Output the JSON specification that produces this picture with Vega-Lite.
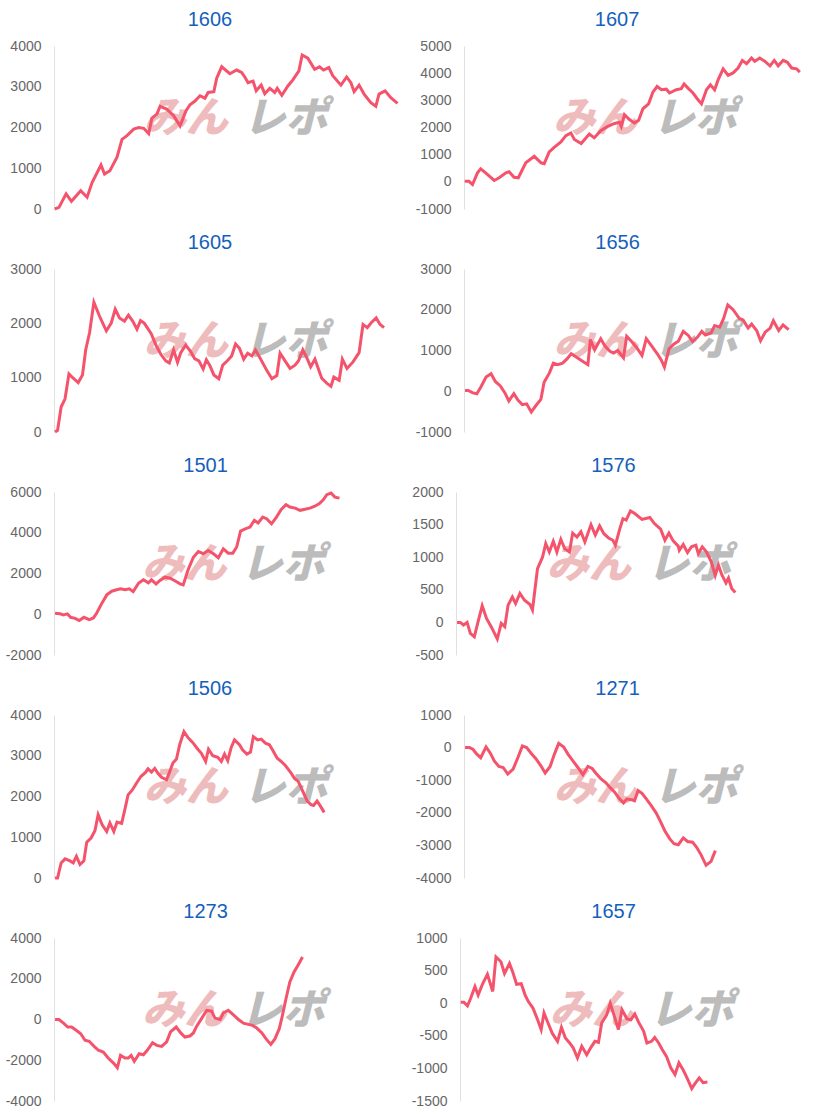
{
"$schema": "https://vega.github.io/schema/vega-lite/v6.json",
"padding": {"left": 5, "top": 10, "right": 0, "bottom": 0},
"background": "white",
"config": {
  "view": {"stroke": null},
  "title": {"font": "Liberation Sans", "fontSize": 20, "fontWeight": "normal", "color": "#1560bd", "frame": "bounds", "anchor": "middle", "offset": 9},
  "axis": {"labelFont": "Liberation Sans", "labelFontSize": 14, "labelColor": "#666666", "labelOverlap": false, "labelExpr": "'' + datum.value", "gridColor": {"condition": {"test": "datum.value === 0", "value": "#aaaaaa"}, "value": "#e6e6e6"}, "domainColor": "#e0e0e0", "ticks": false, "labelPadding": 13},
  "line": {"color": "#f4536b", "strokeWidth": 3},
  "text": {"font": "Noto Sans CJK JP", "fontSize": 42, "fontWeight": 900, "fontStyle": "italic", "baseline": "middle", "align": "center"}
},
"datasets": {
"one": [{}],
"c1606": [{"x":0.2,"y":0},{"x":1.4,"y":40},{"x":3.4,"y":370},{"x":4.9,"y":190},{"x":7.5,"y":450},{"x":9.3,"y":290},{"x":10.7,"y":650},{"x":13.2,"y":1080},{"x":14.2,"y":860},{"x":15.7,"y":940},{"x":17.7,"y":1270},{"x":19.1,"y":1710},{"x":20.5,"y":1800},{"x":22.4,"y":1960},{"x":23.8,"y":2000},{"x":25.2,"y":1980},{"x":26.6,"y":1850},{"x":27.5,"y":2230},{"x":28.9,"y":2330},{"x":29.8,"y":2520},{"x":31.7,"y":2450},{"x":33.6,"y":2290},{"x":35.4,"y":2040},{"x":37.1,"y":2410},{"x":38.2,"y":2560},{"x":39.6,"y":2650},{"x":41.0,"y":2780},{"x":42.4,"y":2720},{"x":43.3,"y":2860},{"x":44.9,"y":2880},{"x":45.7,"y":3210},{"x":47.1,"y":3490},{"x":49.4,"y":3320},{"x":51.3,"y":3410},{"x":52.7,"y":3350},{"x":53.6,"y":3240},{"x":54.5,"y":3100},{"x":55.9,"y":3140},{"x":56.8,"y":2900},{"x":58.2,"y":3040},{"x":59.2,"y":2830},{"x":60.6,"y":2960},{"x":62.0,"y":2860},{"x":62.7,"y":2960},{"x":64.0,"y":2790},{"x":65.7,"y":3020},{"x":67.1,"y":3170},{"x":68.8,"y":3390},{"x":69.7,"y":3780},{"x":71.3,"y":3700},{"x":73.2,"y":3430},{"x":74.6,"y":3490},{"x":75.7,"y":3410},{"x":77.2,"y":3470},{"x":78.3,"y":3270},{"x":80.6,"y":3040},{"x":82.2,"y":3240},{"x":83.4,"y":3100},{"x":84.3,"y":2880},{"x":85.7,"y":3040},{"x":87.1,"y":2820},{"x":89.0,"y":2610},{"x":90.4,"y":2520},{"x":91.3,"y":2820},{"x":93.0,"y":2900},{"x":94.6,"y":2730},{"x":96.5,"y":2590}],
"c1607": [{"x":0.2,"y":20},{"x":1.4,"y":20},{"x":2.4,"y":-100},{"x":3.8,"y":330},{"x":4.7,"y":480},{"x":6.1,"y":330},{"x":8.5,"y":50},{"x":9.9,"y":150},{"x":11.8,"y":330},{"x":12.7,"y":370},{"x":14.1,"y":170},{"x":15.3,"y":150},{"x":17.4,"y":700},{"x":19.8,"y":940},{"x":21.7,"y":700},{"x":22.6,"y":670},{"x":24.0,"y":1100},{"x":25.4,"y":1270},{"x":27.3,"y":1470},{"x":28.7,"y":1700},{"x":30.1,"y":1800},{"x":31.1,"y":1560},{"x":33.0,"y":1410},{"x":35.3,"y":1760},{"x":36.7,"y":1620},{"x":38.6,"y":1890},{"x":40.5,"y":2040},{"x":42.4,"y":2150},{"x":43.8,"y":2190},{"x":44.3,"y":2040},{"x":45.2,"y":2470},{"x":46.6,"y":2290},{"x":48.0,"y":2170},{"x":49.2,"y":2270},{"x":50.4,"y":2690},{"x":52.0,"y":2870},{"x":53.2,"y":3300},{"x":54.4,"y":3510},{"x":55.6,"y":3390},{"x":57.0,"y":3410},{"x":57.9,"y":3270},{"x":59.8,"y":3390},{"x":61.2,"y":3430},{"x":62.0,"y":3600},{"x":63.1,"y":3450},{"x":64.5,"y":3270},{"x":65.7,"y":3060},{"x":66.9,"y":2870},{"x":68.3,"y":3390},{"x":69.4,"y":3570},{"x":70.6,"y":3390},{"x":71.6,"y":3760},{"x":73.0,"y":4160},{"x":74.4,"y":3920},{"x":75.8,"y":4010},{"x":77.2,"y":4190},{"x":78.4,"y":4470},{"x":79.6,"y":4350},{"x":81.0,"y":4560},{"x":81.9,"y":4440},{"x":83.3,"y":4560},{"x":84.7,"y":4440},{"x":86.2,"y":4270},{"x":87.4,"y":4470},{"x":88.5,"y":4270},{"x":89.9,"y":4470},{"x":91.1,"y":4400},{"x":92.3,"y":4190},{"x":93.7,"y":4160},{"x":94.6,"y":4040}],
"c1605": [{"x":0.3,"y":0},{"x":1.0,"y":30},{"x":2.0,"y":460},{"x":3.1,"y":610},{"x":4.2,"y":1070},{"x":5.4,"y":990},{"x":6.8,"y":910},{"x":8.0,"y":1050},{"x":8.9,"y":1510},{"x":10.0,"y":1830},{"x":11.2,"y":2390},{"x":12.8,"y":2130},{"x":14.7,"y":1860},{"x":16.1,"y":2010},{"x":17.2,"y":2260},{"x":18.4,"y":2100},{"x":19.8,"y":2040},{"x":20.9,"y":2150},{"x":22.1,"y":2040},{"x":23.3,"y":1890},{"x":24.3,"y":2050},{"x":25.4,"y":2000},{"x":27.3,"y":1810},{"x":28.7,"y":1590},{"x":30.0,"y":1430},{"x":31.4,"y":1310},{"x":32.4,"y":1270},{"x":33.6,"y":1510},{"x":34.7,"y":1280},{"x":35.6,"y":1460},{"x":37.0,"y":1600},{"x":38.4,"y":1480},{"x":39.5,"y":1350},{"x":40.7,"y":1310},{"x":41.9,"y":1160},{"x":42.8,"y":1330},{"x":43.8,"y":1220},{"x":44.9,"y":1050},{"x":46.3,"y":980},{"x":47.4,"y":1230},{"x":48.7,"y":1310},{"x":49.9,"y":1400},{"x":51.0,"y":1620},{"x":52.1,"y":1540},{"x":53.3,"y":1340},{"x":54.4,"y":1450},{"x":55.6,"y":1400},{"x":56.6,"y":1510},{"x":57.8,"y":1370},{"x":59.8,"y":1130},{"x":61.2,"y":980},{"x":62.6,"y":1040},{"x":63.5,"y":1450},{"x":64.9,"y":1310},{"x":66.3,"y":1170},{"x":67.7,"y":1230},{"x":68.7,"y":1310},{"x":69.9,"y":1510},{"x":71.0,"y":1370},{"x":72.1,"y":1200},{"x":73.3,"y":1340},{"x":75.2,"y":990},{"x":76.6,"y":900},{"x":77.8,"y":840},{"x":78.6,"y":1010},{"x":80.1,"y":950},{"x":81.0,"y":1340},{"x":82.3,"y":1170},{"x":84.0,"y":1290},{"x":85.7,"y":1460},{"x":86.8,"y":1980},{"x":88.0,"y":1920},{"x":89.1,"y":2010},{"x":90.5,"y":2100},{"x":91.6,"y":1980},{"x":92.7,"y":1920}],
"c1656": [{"x":0.3,"y":20},{"x":1.2,"y":20},{"x":2.5,"y":-40},{"x":3.6,"y":-60},{"x":4.7,"y":100},{"x":6.2,"y":350},{"x":7.6,"y":430},{"x":8.8,"y":240},{"x":10.2,"y":130},{"x":11.5,"y":-40},{"x":12.6,"y":-240},{"x":14.0,"y":-60},{"x":15.2,"y":-220},{"x":16.4,"y":-330},{"x":17.6,"y":-310},{"x":18.9,"y":-510},{"x":20.2,"y":-350},{"x":21.6,"y":-200},{"x":22.5,"y":220},{"x":24.0,"y":450},{"x":25.1,"y":690},{"x":26.3,"y":650},{"x":27.7,"y":690},{"x":29.0,"y":800},{"x":30.1,"y":920},{"x":31.5,"y":840},{"x":33.4,"y":730},{"x":34.8,"y":650},{"x":35.5,"y":1270},{"x":36.7,"y":1020},{"x":38.4,"y":1290},{"x":39.6,"y":1110},{"x":41.0,"y":980},{"x":42.0,"y":940},{"x":43.2,"y":1000},{"x":44.8,"y":820},{"x":45.7,"y":1350},{"x":47.2,"y":1210},{"x":48.6,"y":1060},{"x":50.0,"y":880},{"x":51.2,"y":1290},{"x":52.8,"y":1100},{"x":54.3,"y":920},{"x":55.4,"y":770},{"x":56.3,"y":590},{"x":57.6,"y":1040},{"x":59.0,"y":1160},{"x":60.2,"y":1230},{"x":61.6,"y":1470},{"x":63.0,"y":1370},{"x":64.2,"y":1220},{"x":65.6,"y":1330},{"x":66.8,"y":1470},{"x":67.8,"y":1380},{"x":69.4,"y":1430},{"x":70.4,"y":1610},{"x":71.8,"y":1570},{"x":72.9,"y":1780},{"x":74.1,"y":2120},{"x":75.6,"y":2000},{"x":77.3,"y":1790},{"x":78.4,"y":1750},{"x":79.8,"y":1550},{"x":80.8,"y":1650},{"x":82.2,"y":1490},{"x":83.3,"y":1240},{"x":84.6,"y":1450},{"x":86.0,"y":1550},{"x":86.9,"y":1730},{"x":88.4,"y":1490},{"x":89.6,"y":1630},{"x":91.2,"y":1510}],
"c1501": [{"x":0.3,"y":50},{"x":1.7,"y":20},{"x":2.7,"y":-30},{"x":3.8,"y":20},{"x":4.7,"y":-150},{"x":6.0,"y":-200},{"x":7.2,"y":-310},{"x":8.5,"y":-150},{"x":10.0,"y":-260},{"x":11.2,"y":-180},{"x":12.1,"y":50},{"x":13.5,"y":510},{"x":15.0,"y":950},{"x":16.4,"y":1130},{"x":17.8,"y":1200},{"x":18.9,"y":1250},{"x":20.2,"y":1200},{"x":21.4,"y":1250},{"x":22.5,"y":1110},{"x":24.0,"y":1520},{"x":25.4,"y":1690},{"x":26.8,"y":1540},{"x":27.7,"y":1690},{"x":29.0,"y":1490},{"x":30.1,"y":1660},{"x":31.5,"y":1820},{"x":33.0,"y":1770},{"x":34.7,"y":1610},{"x":35.8,"y":1490},{"x":36.7,"y":1440},{"x":38.2,"y":2230},{"x":39.6,"y":2800},{"x":41.0,"y":3080},{"x":42.4,"y":2970},{"x":43.8,"y":3130},{"x":45.3,"y":2970},{"x":46.7,"y":2770},{"x":48.1,"y":3210},{"x":49.5,"y":3000},{"x":50.8,"y":3000},{"x":51.9,"y":3300},{"x":53.0,"y":4080},{"x":54.5,"y":4200},{"x":55.7,"y":4280},{"x":56.9,"y":4610},{"x":58.0,"y":4480},{"x":59.3,"y":4770},{"x":60.4,"y":4690},{"x":61.8,"y":4440},{"x":63.1,"y":4740},{"x":64.5,"y":5130},{"x":65.9,"y":5380},{"x":67.0,"y":5260},{"x":68.5,"y":5210},{"x":69.9,"y":5100},{"x":71.3,"y":5150},{"x":72.7,"y":5210},{"x":74.1,"y":5300},{"x":75.4,"y":5430},{"x":76.5,"y":5620},{"x":77.5,"y":5870},{"x":78.7,"y":5950},{"x":79.8,"y":5750},{"x":81.1,"y":5700}],
"c1576": [{"x":0.3,"y":0},{"x":1.2,"y":0},{"x":2.1,"y":-40},{"x":3.1,"y":0},{"x":4.0,"y":-170},{"x":5.1,"y":-220},{"x":6.1,"y":0},{"x":7.3,"y":255},{"x":8.5,"y":60},{"x":9.8,"y":-65},{"x":11.5,"y":-255},{"x":12.6,"y":-15},{"x":13.6,"y":-65},{"x":14.5,"y":265},{"x":15.7,"y":390},{"x":16.6,"y":290},{"x":17.8,"y":445},{"x":19.1,"y":340},{"x":20.6,"y":275},{"x":21.3,"y":190},{"x":22.7,"y":825},{"x":24.1,"y":1000},{"x":25.0,"y":1210},{"x":26.0,"y":1080},{"x":27.1,"y":1245},{"x":28.1,"y":1080},{"x":29.2,"y":1275},{"x":30.3,"y":1130},{"x":31.6,"y":1080},{"x":32.5,"y":1370},{"x":33.7,"y":1310},{"x":34.8,"y":1390},{"x":35.9,"y":1235},{"x":37.6,"y":1500},{"x":38.8,"y":1340},{"x":40.0,"y":1480},{"x":41.2,"y":1360},{"x":42.5,"y":1295},{"x":43.7,"y":1260},{"x":44.4,"y":1185},{"x":45.6,"y":1430},{"x":46.5,"y":1590},{"x":47.4,"y":1570},{"x":48.6,"y":1710},{"x":49.8,"y":1670},{"x":51.8,"y":1580},{"x":54.0,"y":1610},{"x":55.2,"y":1520},{"x":57.0,"y":1430},{"x":58.2,"y":1260},{"x":59.3,"y":1370},{"x":60.5,"y":1250},{"x":61.9,"y":1170},{"x":62.2,"y":1105},{"x":63.3,"y":1195},{"x":64.5,"y":1070},{"x":65.6,"y":1160},{"x":66.8,"y":1185},{"x":67.5,"y":1055},{"x":68.6,"y":1160},{"x":69.8,"y":1080},{"x":71.1,"y":930},{"x":72.2,"y":720},{"x":73.1,"y":880},{"x":74.0,"y":735},{"x":75.2,"y":605},{"x":75.9,"y":680},{"x":76.8,"y":520},{"x":77.8,"y":460}],
"c1506": [{"x":0.3,"y":0},{"x":1.0,"y":0},{"x":2.0,"y":370},{"x":3.1,"y":470},{"x":4.5,"y":420},{"x":5.4,"y":370},{"x":6.3,"y":530},{"x":7.3,"y":330},{"x":8.4,"y":420},{"x":9.2,"y":880},{"x":10.4,"y":980},{"x":11.5,"y":1160},{"x":12.4,"y":1550},{"x":13.5,"y":1310},{"x":14.8,"y":1140},{"x":15.7,"y":1350},{"x":16.8,"y":1140},{"x":17.7,"y":1370},{"x":19.0,"y":1340},{"x":19.9,"y":1680},{"x":20.8,"y":2040},{"x":22.0,"y":2160},{"x":23.2,"y":2330},{"x":24.4,"y":2490},{"x":25.7,"y":2590},{"x":26.4,"y":2680},{"x":27.4,"y":2600},{"x":28.3,"y":2690},{"x":29.2,"y":2570},{"x":30.2,"y":2470},{"x":31.6,"y":2410},{"x":32.5,"y":2610},{"x":33.4,"y":2820},{"x":34.4,"y":2920},{"x":35.3,"y":3270},{"x":36.5,"y":3590},{"x":37.6,"y":3450},{"x":39.0,"y":3320},{"x":40.4,"y":3160},{"x":41.4,"y":3060},{"x":42.6,"y":2860},{"x":43.4,"y":3160},{"x":44.6,"y":3000},{"x":46.0,"y":2960},{"x":47.0,"y":2860},{"x":47.9,"y":3040},{"x":48.8,"y":2880},{"x":49.8,"y":3210},{"x":50.7,"y":3390},{"x":52.1,"y":3270},{"x":53.0,"y":3140},{"x":54.2,"y":3040},{"x":55.2,"y":3090},{"x":56.0,"y":3470},{"x":57.2,"y":3390},{"x":58.2,"y":3410},{"x":59.4,"y":3310},{"x":60.5,"y":3270},{"x":61.4,"y":3140},{"x":62.7,"y":2940},{"x":63.8,"y":2860},{"x":65.0,"y":2760},{"x":66.4,"y":2600},{"x":67.5,"y":2450},{"x":68.6,"y":2370},{"x":69.7,"y":2160},{"x":71.1,"y":1890},{"x":72.2,"y":1800},{"x":72.9,"y":1780},{"x":73.9,"y":1890},{"x":74.8,"y":1770},{"x":75.9,"y":1610}],
"c1271": [{"x":0.3,"y":0},{"x":1.5,"y":0},{"x":2.5,"y":-50},{"x":3.6,"y":-200},{"x":4.7,"y":-310},{"x":6.2,"y":20},{"x":7.4,"y":-170},{"x":8.5,"y":-410},{"x":9.8,"y":-580},{"x":11.0,"y":-610},{"x":12.3,"y":-810},{"x":13.8,"y":-660},{"x":15.2,"y":-290},{"x":16.4,"y":50},{"x":17.6,"y":0},{"x":18.9,"y":-180},{"x":20.2,"y":-340},{"x":21.6,"y":-560},{"x":22.8,"y":-780},{"x":24.2,"y":-580},{"x":25.4,"y":-200},{"x":26.6,"y":130},{"x":28.0,"y":20},{"x":29.2,"y":-200},{"x":30.6,"y":-410},{"x":32.0,"y":-610},{"x":33.4,"y":-830},{"x":34.8,"y":-580},{"x":36.0,"y":-640},{"x":37.0,"y":-780},{"x":38.4,"y":-950},{"x":39.8,"y":-1070},{"x":41.0,"y":-1220},{"x":42.2,"y":-1350},{"x":43.4,"y":-1530},{"x":44.8,"y":-1700},{"x":45.7,"y":-1580},{"x":47.2,"y":-1600},{"x":47.9,"y":-1630},{"x":48.9,"y":-1320},{"x":50.0,"y":-1400},{"x":51.1,"y":-1560},{"x":52.6,"y":-1780},{"x":54.0,"y":-2010},{"x":55.2,"y":-2270},{"x":56.4,"y":-2550},{"x":57.8,"y":-2800},{"x":59.0,"y":-2950},{"x":60.2,"y":-2980},{"x":61.6,"y":-2770},{"x":62.8,"y":-2880},{"x":64.2,"y":-2900},{"x":65.3,"y":-3050},{"x":66.6,"y":-3290},{"x":68.0,"y":-3610},{"x":69.4,"y":-3490},{"x":70.6,"y":-3160}],
"c1273": [{"x":0.3,"y":0},{"x":1.4,"y":0},{"x":2.7,"y":-180},{"x":3.9,"y":-370},{"x":5.0,"y":-370},{"x":6.3,"y":-530},{"x":7.6,"y":-700},{"x":8.8,"y":-1020},{"x":10.0,"y":-1070},{"x":11.4,"y":-1320},{"x":12.6,"y":-1510},{"x":14.0,"y":-1600},{"x":15.4,"y":-1890},{"x":16.9,"y":-2140},{"x":18.0,"y":-2370},{"x":18.9,"y":-1760},{"x":20.2,"y":-1890},{"x":21.1,"y":-1890},{"x":21.9,"y":-1760},{"x":22.8,"y":-2050},{"x":24.2,"y":-1680},{"x":25.4,"y":-1730},{"x":26.5,"y":-1510},{"x":28.0,"y":-1140},{"x":29.2,"y":-1270},{"x":30.6,"y":-1320},{"x":32.0,"y":-1100},{"x":33.1,"y":-610},{"x":34.7,"y":-370},{"x":36.0,"y":-660},{"x":37.2,"y":-860},{"x":38.6,"y":-810},{"x":39.6,"y":-660},{"x":40.5,"y":-340},{"x":42.0,"y":70},{"x":43.4,"y":450},{"x":44.8,"y":410},{"x":45.7,"y":70},{"x":47.2,"y":0},{"x":48.1,"y":320},{"x":49.5,"y":450},{"x":50.9,"y":240},{"x":52.4,"y":0},{"x":53.8,"y":-180},{"x":55.2,"y":-240},{"x":56.4,"y":-290},{"x":57.6,"y":-420},{"x":59.0,"y":-650},{"x":60.2,"y":-940},{"x":61.6,"y":-1220},{"x":62.8,"y":-940},{"x":64.0,"y":-450},{"x":64.9,"y":200},{"x":65.9,"y":1020},{"x":67.0,"y":1840},{"x":68.2,"y":2330},{"x":69.4,"y":2690},{"x":70.6,"y":3070}],
"c1657": [{"x":0.2,"y":15},{"x":1.1,"y":15},{"x":2.1,"y":-40},{"x":3.0,"y":75},{"x":4.2,"y":255},{"x":5.1,"y":125},{"x":6.3,"y":290},{"x":7.7,"y":445},{"x":9.2,"y":180},{"x":10.1,"y":710},{"x":11.5,"y":635},{"x":12.5,"y":455},{"x":13.9,"y":610},{"x":14.8,"y":480},{"x":15.9,"y":290},{"x":17.2,"y":300},{"x":18.3,"y":125},{"x":19.2,"y":25},{"x":20.5,"y":-75},{"x":21.7,"y":-240},{"x":22.8,"y":-405},{"x":23.6,"y":-150},{"x":24.7,"y":-300},{"x":25.9,"y":-460},{"x":27.4,"y":-585},{"x":28.5,"y":-370},{"x":29.6,"y":-535},{"x":30.8,"y":-610},{"x":31.8,"y":-685},{"x":33.0,"y":-840},{"x":34.2,"y":-660},{"x":35.6,"y":-790},{"x":36.7,"y":-685},{"x":37.9,"y":-585},{"x":38.9,"y":-600},{"x":39.8,"y":-305},{"x":41.2,"y":-180},{"x":42.2,"y":0},{"x":43.3,"y":-190},{"x":44.5,"y":-405},{"x":45.5,"y":-100},{"x":46.9,"y":-240},{"x":48.0,"y":-255},{"x":49.1,"y":-165},{"x":50.2,"y":-295},{"x":51.6,"y":-430},{"x":52.5,"y":-610},{"x":53.8,"y":-585},{"x":54.7,"y":-525},{"x":55.8,"y":-610},{"x":56.8,"y":-710},{"x":58.0,"y":-815},{"x":59.2,"y":-990},{"x":60.4,"y":-1095},{"x":61.5,"y":-915},{"x":62.7,"y":-1025},{"x":63.9,"y":-1160},{"x":65.1,"y":-1310},{"x":66.0,"y":-1235},{"x":67.2,"y":-1145},{"x":68.3,"y":-1220},{"x":69.5,"y":-1210}]
},
"spacing": 17,
"vconcat": [
{"spacing": 5, "hconcat": [
{"width": 356, "height": 163, "title": "1606", "layer": [
 {"data": {"name": "one"}, "mark": {"type": "text", "text": "みん", "color": "#eebcbc"}, "encoding": {"x": {"datum": 37, "type": "quantitative", "axis": null, "scale": {"domain": [0, 100], "nice": false, "zero": false}}, "y": {"datum": 2200, "type": "quantitative", "title": null, "scale": {"domain": [0, 4000], "nice": false, "zero": false}, "axis": {"values": [0, 1000, 2000, 3000, 4000]}}}},
 {"data": {"name": "one"}, "mark": {"type": "text", "text": "レポ", "color": "#bcbcbc"}, "encoding": {"x": {"datum": 65, "type": "quantitative", "axis": null, "scale": {"domain": [0, 100], "nice": false, "zero": false}}, "y": {"datum": 2200, "type": "quantitative", "title": null, "scale": {"domain": [0, 4000], "nice": false, "zero": false}, "axis": {"values": [0, 1000, 2000, 3000, 4000]}}}},
 {"data": {"name": "c1606"}, "mark": "line", "encoding": {"x": {"field": "x", "type": "quantitative", "axis": null, "scale": {"domain": [0, 100], "nice": false, "zero": false}}, "y": {"field": "y", "type": "quantitative", "title": null, "scale": {"domain": [0, 4000], "nice": false, "zero": false}, "axis": {"values": [0, 1000, 2000, 3000, 4000]}}}}
]},
{"width": 355, "height": 163, "title": "1607", "layer": [
 {"data": {"name": "one"}, "mark": {"type": "text", "text": "みん", "color": "#eebcbc"}, "encoding": {"x": {"datum": 37, "type": "quantitative", "axis": null, "scale": {"domain": [0, 100], "nice": false, "zero": false}}, "y": {"datum": 2300, "type": "quantitative", "title": null, "scale": {"domain": [-1000, 5000], "nice": false, "zero": false}, "axis": {"values": [-1000, 0, 1000, 2000, 3000, 4000, 5000]}}}},
 {"data": {"name": "one"}, "mark": {"type": "text", "text": "レポ", "color": "#bcbcbc"}, "encoding": {"x": {"datum": 65, "type": "quantitative", "axis": null, "scale": {"domain": [0, 100], "nice": false, "zero": false}}, "y": {"datum": 2300, "type": "quantitative", "title": null, "scale": {"domain": [-1000, 5000], "nice": false, "zero": false}, "axis": {"values": [-1000, 0, 1000, 2000, 3000, 4000, 5000]}}}},
 {"data": {"name": "c1607"}, "mark": "line", "encoding": {"x": {"field": "x", "type": "quantitative", "axis": null, "scale": {"domain": [0, 100], "nice": false, "zero": false}}, "y": {"field": "y", "type": "quantitative", "title": null, "scale": {"domain": [-1000, 5000], "nice": false, "zero": false}, "axis": {"values": [-1000, 0, 1000, 2000, 3000, 4000, 5000]}}}}
]}
]},
{"spacing": 5, "hconcat": [
{"width": 356, "height": 163, "title": "1605", "layer": [
 {"data": {"name": "one"}, "mark": {"type": "text", "text": "みん", "color": "#eebcbc"}, "encoding": {"x": {"datum": 37, "type": "quantitative", "axis": null, "scale": {"domain": [0, 100], "nice": false, "zero": false}}, "y": {"datum": 1650, "type": "quantitative", "title": null, "scale": {"domain": [0, 3000], "nice": false, "zero": false}, "axis": {"values": [0, 1000, 2000, 3000]}}}},
 {"data": {"name": "one"}, "mark": {"type": "text", "text": "レポ", "color": "#bcbcbc"}, "encoding": {"x": {"datum": 65, "type": "quantitative", "axis": null, "scale": {"domain": [0, 100], "nice": false, "zero": false}}, "y": {"datum": 1650, "type": "quantitative", "title": null, "scale": {"domain": [0, 3000], "nice": false, "zero": false}, "axis": {"values": [0, 1000, 2000, 3000]}}}},
 {"data": {"name": "c1605"}, "mark": "line", "encoding": {"x": {"field": "x", "type": "quantitative", "axis": null, "scale": {"domain": [0, 100], "nice": false, "zero": false}}, "y": {"field": "y", "type": "quantitative", "title": null, "scale": {"domain": [0, 3000], "nice": false, "zero": false}, "axis": {"values": [0, 1000, 2000, 3000]}}}}
]},
{"width": 356, "height": 163, "title": "1656", "layer": [
 {"data": {"name": "one"}, "mark": {"type": "text", "text": "みん", "color": "#eebcbc"}, "encoding": {"x": {"datum": 37, "type": "quantitative", "axis": null, "scale": {"domain": [0, 100], "nice": false, "zero": false}}, "y": {"datum": 1200, "type": "quantitative", "title": null, "scale": {"domain": [-1000, 3000], "nice": false, "zero": false}, "axis": {"values": [-1000, 0, 1000, 2000, 3000]}}}},
 {"data": {"name": "one"}, "mark": {"type": "text", "text": "レポ", "color": "#bcbcbc"}, "encoding": {"x": {"datum": 65, "type": "quantitative", "axis": null, "scale": {"domain": [0, 100], "nice": false, "zero": false}}, "y": {"datum": 1200, "type": "quantitative", "title": null, "scale": {"domain": [-1000, 3000], "nice": false, "zero": false}, "axis": {"values": [-1000, 0, 1000, 2000, 3000]}}}},
 {"data": {"name": "c1656"}, "mark": "line", "encoding": {"x": {"field": "x", "type": "quantitative", "axis": null, "scale": {"domain": [0, 100], "nice": false, "zero": false}}, "y": {"field": "y", "type": "quantitative", "title": null, "scale": {"domain": [-1000, 3000], "nice": false, "zero": false}, "axis": {"values": [-1000, 0, 1000, 2000, 3000]}}}}
]}
]},
{"spacing": 5, "hconcat": [
{"width": 352, "height": 163, "title": "1501", "layer": [
 {"data": {"name": "one"}, "mark": {"type": "text", "text": "みん", "color": "#eebcbc"}, "encoding": {"x": {"datum": 37, "type": "quantitative", "axis": null, "scale": {"domain": [0, 100], "nice": false, "zero": false}}, "y": {"datum": 2400, "type": "quantitative", "title": null, "scale": {"domain": [-2000, 6000], "nice": false, "zero": false}, "axis": {"values": [-2000, 0, 2000, 4000, 6000]}}}},
 {"data": {"name": "one"}, "mark": {"type": "text", "text": "レポ", "color": "#bcbcbc"}, "encoding": {"x": {"datum": 65, "type": "quantitative", "axis": null, "scale": {"domain": [0, 100], "nice": false, "zero": false}}, "y": {"datum": 2400, "type": "quantitative", "title": null, "scale": {"domain": [-2000, 6000], "nice": false, "zero": false}, "axis": {"values": [-2000, 0, 2000, 4000, 6000]}}}},
 {"data": {"name": "c1501"}, "mark": "line", "encoding": {"x": {"field": "x", "type": "quantitative", "axis": null, "scale": {"domain": [0, 100], "nice": false, "zero": false}}, "y": {"field": "y", "type": "quantitative", "title": null, "scale": {"domain": [-2000, 6000], "nice": false, "zero": false}, "axis": {"values": [-2000, 0, 2000, 4000, 6000]}}}}
]},
{"width": 359, "height": 163, "title": "1576", "layer": [
 {"data": {"name": "one"}, "mark": {"type": "text", "text": "みん", "color": "#eebcbc"}, "encoding": {"x": {"datum": 37, "type": "quantitative", "axis": null, "scale": {"domain": [0, 100], "nice": false, "zero": false}}, "y": {"datum": 875, "type": "quantitative", "title": null, "scale": {"domain": [-500, 2000], "nice": false, "zero": false}, "axis": {"values": [-500, 0, 500, 1000, 1500, 2000]}}}},
 {"data": {"name": "one"}, "mark": {"type": "text", "text": "レポ", "color": "#bcbcbc"}, "encoding": {"x": {"datum": 65, "type": "quantitative", "axis": null, "scale": {"domain": [0, 100], "nice": false, "zero": false}}, "y": {"datum": 875, "type": "quantitative", "title": null, "scale": {"domain": [-500, 2000], "nice": false, "zero": false}, "axis": {"values": [-500, 0, 500, 1000, 1500, 2000]}}}},
 {"data": {"name": "c1576"}, "mark": "line", "encoding": {"x": {"field": "x", "type": "quantitative", "axis": null, "scale": {"domain": [0, 100], "nice": false, "zero": false}}, "y": {"field": "y", "type": "quantitative", "title": null, "scale": {"domain": [-500, 2000], "nice": false, "zero": false}, "axis": {"values": [-500, 0, 500, 1000, 1500, 2000]}}}}
]}
]},
{"spacing": 5, "hconcat": [
{"width": 356, "height": 163, "title": "1506", "layer": [
 {"data": {"name": "one"}, "mark": {"type": "text", "text": "みん", "color": "#eebcbc"}, "encoding": {"x": {"datum": 37, "type": "quantitative", "axis": null, "scale": {"domain": [0, 100], "nice": false, "zero": false}}, "y": {"datum": 2200, "type": "quantitative", "title": null, "scale": {"domain": [0, 4000], "nice": false, "zero": false}, "axis": {"values": [0, 1000, 2000, 3000, 4000]}}}},
 {"data": {"name": "one"}, "mark": {"type": "text", "text": "レポ", "color": "#bcbcbc"}, "encoding": {"x": {"datum": 65, "type": "quantitative", "axis": null, "scale": {"domain": [0, 100], "nice": false, "zero": false}}, "y": {"datum": 2200, "type": "quantitative", "title": null, "scale": {"domain": [0, 4000], "nice": false, "zero": false}, "axis": {"values": [0, 1000, 2000, 3000, 4000]}}}},
 {"data": {"name": "c1506"}, "mark": "line", "encoding": {"x": {"field": "x", "type": "quantitative", "axis": null, "scale": {"domain": [0, 100], "nice": false, "zero": false}}, "y": {"field": "y", "type": "quantitative", "title": null, "scale": {"domain": [0, 4000], "nice": false, "zero": false}, "axis": {"values": [0, 1000, 2000, 3000, 4000]}}}}
]},
{"width": 356, "height": 163, "title": "1271", "layer": [
 {"data": {"name": "one"}, "mark": {"type": "text", "text": "みん", "color": "#eebcbc"}, "encoding": {"x": {"datum": 37, "type": "quantitative", "axis": null, "scale": {"domain": [0, 100], "nice": false, "zero": false}}, "y": {"datum": -1250, "type": "quantitative", "title": null, "scale": {"domain": [-4000, 1000], "nice": false, "zero": false}, "axis": {"values": [-4000, -3000, -2000, -1000, 0, 1000]}}}},
 {"data": {"name": "one"}, "mark": {"type": "text", "text": "レポ", "color": "#bcbcbc"}, "encoding": {"x": {"datum": 65, "type": "quantitative", "axis": null, "scale": {"domain": [0, 100], "nice": false, "zero": false}}, "y": {"datum": -1250, "type": "quantitative", "title": null, "scale": {"domain": [-4000, 1000], "nice": false, "zero": false}, "axis": {"values": [-4000, -3000, -2000, -1000, 0, 1000]}}}},
 {"data": {"name": "c1271"}, "mark": "line", "encoding": {"x": {"field": "x", "type": "quantitative", "axis": null, "scale": {"domain": [0, 100], "nice": false, "zero": false}}, "y": {"field": "y", "type": "quantitative", "title": null, "scale": {"domain": [-4000, 1000], "nice": false, "zero": false}, "axis": {"values": [-4000, -3000, -2000, -1000, 0, 1000]}}}}
]}
]},
{"spacing": 5, "hconcat": [
{"width": 352, "height": 163, "title": "1273", "layer": [
 {"data": {"name": "one"}, "mark": {"type": "text", "text": "みん", "color": "#eebcbc"}, "encoding": {"x": {"datum": 37, "type": "quantitative", "axis": null, "scale": {"domain": [0, 100], "nice": false, "zero": false}}, "y": {"datum": 400, "type": "quantitative", "title": null, "scale": {"domain": [-4000, 4000], "nice": false, "zero": false}, "axis": {"values": [-4000, -2000, 0, 2000, 4000]}}}},
 {"data": {"name": "one"}, "mark": {"type": "text", "text": "レポ", "color": "#bcbcbc"}, "encoding": {"x": {"datum": 65, "type": "quantitative", "axis": null, "scale": {"domain": [0, 100], "nice": false, "zero": false}}, "y": {"datum": 400, "type": "quantitative", "title": null, "scale": {"domain": [-4000, 4000], "nice": false, "zero": false}, "axis": {"values": [-4000, -2000, 0, 2000, 4000]}}}},
 {"data": {"name": "c1273"}, "mark": "line", "encoding": {"x": {"field": "x", "type": "quantitative", "axis": null, "scale": {"domain": [0, 100], "nice": false, "zero": false}}, "y": {"field": "y", "type": "quantitative", "title": null, "scale": {"domain": [-4000, 4000], "nice": false, "zero": false}, "axis": {"values": [-4000, -2000, 0, 2000, 4000]}}}}
]},
{"width": 356, "height": 163, "title": "1657", "layer": [
 {"data": {"name": "one"}, "mark": {"type": "text", "text": "みん", "color": "#eebcbc"}, "encoding": {"x": {"datum": 37, "type": "quantitative", "axis": null, "scale": {"domain": [0, 100], "nice": false, "zero": false}}, "y": {"datum": -125, "type": "quantitative", "title": null, "scale": {"domain": [-1500, 1000], "nice": false, "zero": false}, "axis": {"values": [-1500, -1000, -500, 0, 500, 1000]}}}},
 {"data": {"name": "one"}, "mark": {"type": "text", "text": "レポ", "color": "#bcbcbc"}, "encoding": {"x": {"datum": 65, "type": "quantitative", "axis": null, "scale": {"domain": [0, 100], "nice": false, "zero": false}}, "y": {"datum": -125, "type": "quantitative", "title": null, "scale": {"domain": [-1500, 1000], "nice": false, "zero": false}, "axis": {"values": [-1500, -1000, -500, 0, 500, 1000]}}}},
 {"data": {"name": "c1657"}, "mark": "line", "encoding": {"x": {"field": "x", "type": "quantitative", "axis": null, "scale": {"domain": [0, 100], "nice": false, "zero": false}}, "y": {"field": "y", "type": "quantitative", "title": null, "scale": {"domain": [-1500, 1000], "nice": false, "zero": false}, "axis": {"values": [-1500, -1000, -500, 0, 500, 1000]}}}}
]}
]}
]
}
